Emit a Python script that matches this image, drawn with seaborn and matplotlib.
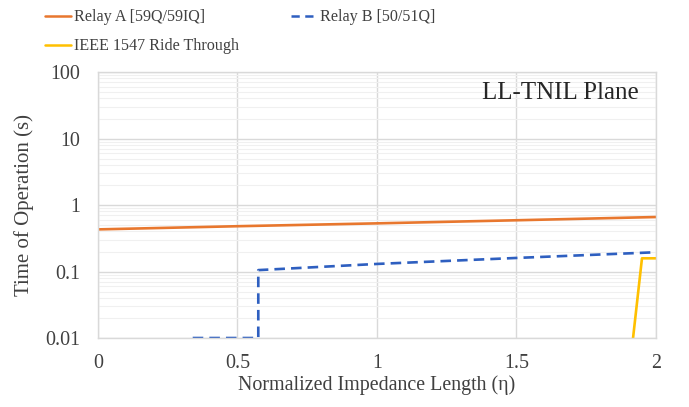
import matplotlib
matplotlib.use("Agg")
import matplotlib.pyplot as plt
import seaborn as sns
import pandas as pd
from matplotlib.lines import Line2D
from matplotlib.ticker import LogLocator, FixedLocator, NullFormatter

# Data
relay_a_x = [0.0, 0.5, 1.0, 1.5, 2.0]
relay_a_y = [0.43, 0.48, 0.53, 0.59, 0.66]

relay_b_x = [0.34, 0.575, 0.575, 1.0, 1.5, 2.0]
relay_b_y = [0.01, 0.01, 0.105, 0.13, 0.16, 0.195]

ieee_x = [1.918, 1.95, 2.0]
ieee_y = [0.01, 0.158, 0.158]

labels = ["Relay A [59Q/59IQ]", "Relay B [50/51Q]", "IEEE 1547 Ride Through"]
colors = ["#E8772E", "#2E5FC0", "#FFC000"]

sns.set_theme(style="white")
plt.rcParams['font.family'] = ['Liberation Serif', 'DejaVu Serif']

fig = plt.figure(figsize=(6.89, 4.07), dpi=100)
ax = fig.add_axes([0.142, 0.1695, 0.810, 0.6535])

da = pd.DataFrame({"x": relay_a_x, "y": relay_a_y})
db = pd.DataFrame({"x": relay_b_x, "y": relay_b_y})
dc = pd.DataFrame({"x": ieee_x, "y": ieee_y})

sns.lineplot(data=da, x="x", y="y", ax=ax, color=colors[0], lw=1.9, sort=False, estimator=None)
sns.lineplot(data=db, x="x", y="y", ax=ax, color=colors[1], lw=1.9, sort=False, estimator=None,
             linestyle=(0, (4.0, 2.3)))
sns.lineplot(data=dc, x="x", y="y", ax=ax, color=colors[2], lw=1.9, sort=False, estimator=None)

ax.set_yscale("log")
ax.set_ylim(0.01, 100)
ax.set_xlim(0, 2)
ax.xaxis.set_major_locator(FixedLocator([0, 0.5, 1, 1.5, 2]))
ax.set_xticklabels(["0", "0.5", "1", "1.5", "2"])
ax.yaxis.set_major_locator(FixedLocator([0.01, 0.1, 1, 10, 100]))
ax.set_yticklabels(["0.01", "0.1", "1", "10", "100"])
ax.yaxis.set_minor_locator(LogLocator(base=10, subs=range(2, 10)))
ax.yaxis.set_minor_formatter(NullFormatter())

ax.grid(True, which="major", axis="both", color="#D9D9D9", lw=1.0)
ax.grid(True, which="minor", axis="y", color="#F0F0F0", lw=0.8)
ax.set_axisbelow(True)
for s in ax.spines.values():
    s.set_color("#D9D9D9")
    s.set_linewidth(1.0)
ax.tick_params(axis="both", which="both", length=0, labelsize=14.4, colors="#404040")
ax.tick_params(axis="y", pad=13)
ax.tick_params(axis="x", pad=11.5)

ax.set_xlabel("Normalized Impedance Length (\u03b7)", fontsize=14.4, color="#404040", labelpad=2)
ax.set_ylabel("Time of Operation (s)", fontsize=15, color="#404040", labelpad=8)

ax.text(0.97, 0.92, "LL-TNIL Plane", transform=ax.transAxes, ha="right", va="center",
        fontsize=18, color="#262626")

h_a = Line2D([], [], color=colors[0], lw=1.8)
h_b = Line2D([], [], color=colors[1], lw=1.8, linestyle=(0, (3.3, 2.2)))
h_c = Line2D([], [], color=colors[2], lw=1.8)
# matplotlib fills legend columns first; order so rows read A, B / IEEE
fig.legend([h_a, h_c, h_b], [labels[0], labels[2], labels[1]],
           loc="upper left", bbox_to_anchor=(45 / 689, 0.977), ncol=2,
           frameon=False, fontsize=11.6, handlelength=1.6, handletextpad=0.2,
           columnspacing=3.2, labelspacing=0.8, labelcolor="#404040",
           borderpad=0, borderaxespad=0)

fig.savefig("out.png", dpi=100)
